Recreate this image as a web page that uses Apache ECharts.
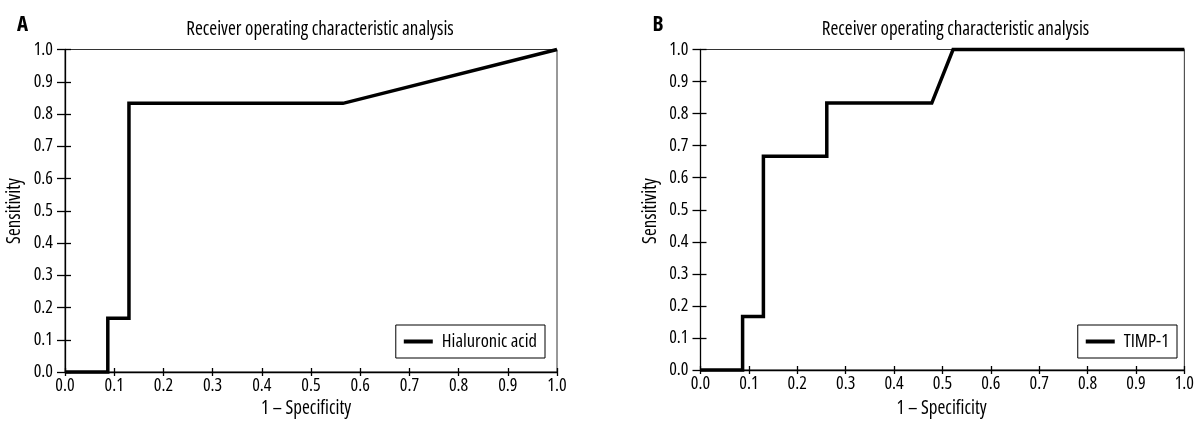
<!DOCTYPE html>
<html>
<head>
<meta charset="utf-8">
<script src="https://cdn.jsdelivr.net/npm/echarts@6/dist/echarts.min.js"></script>
<style>
html,body{margin:0;padding:0;background:#fff;}
#chart{width:1197px;height:424px;}
</style>
</head>
<body>
<div id="chart"></div>
<script>
// ---- data ----
const panelLetters = ['A', 'B'];
const titleText = 'Receiver operating characteristic analysis';
const xAxisName = '1 \u2013 Specificity';
const yAxisName = 'Sensitivity';
const seriesNames = ['Hialuronic acid', 'TIMP-1'];
// 1 - specificity / sensitivity for panel A (Hialuronic acid)
const rocA_x = [0, 0.087, 0.087, 0.130, 0.130, 0.565, 1.0];
const rocA_y = [0, 0, 0.167, 0.167, 0.833, 0.833, 1.0];
// panel B (TIMP-1)
const rocB_x = [0, 0.087, 0.087, 0.130, 0.130, 0.261, 0.261, 0.478, 0.522, 1.0];
const rocB_y = [0, 0, 0.167, 0.167, 0.667, 0.667, 0.833, 0.833, 1.0, 1.0];

// ---- pick the narrowest installed sans font (reference uses a condensed face) ----
const mctx = document.createElement('canvas').getContext('2d');
const NOFONT = "100px 'NoSuchFontXyz123'";
function measureWith(f, text) {
  mctx.font = NOFONT;
  const before = mctx.font;
  mctx.font = f;
  if (mctx.font === before) return null;
  return mctx.measureText(text).width;
}
function pickFont() {
  const sample = titleText;
  mctx.font = NOFONT;
  const fallbackW = mctx.measureText(sample).width;
  const cands = [
    {stretch: '', family: "'Liberation Sans Narrow'"},
    {stretch: '', family: "'Arial Narrow'"},
    {stretch: '', family: "'Roboto Condensed'"},
    {stretch: '', family: "'Open Sans Condensed'"},
    {stretch: '', family: "'Noto Sans Condensed'"},
    {stretch: '', family: "'DejaVu Sans Condensed'"},
    {stretch: 'extra-condensed', family: "'Noto Sans'"},
    {stretch: 'condensed', family: "'Noto Sans'"},
    {stretch: 'condensed', family: "'Open Sans'"},
    {stretch: 'condensed', family: 'Roboto'},
    {stretch: 'condensed', family: "'DejaVu Sans'"},
    {stretch: '', family: "'Liberation Sans'"},
    {stretch: '', family: 'Roboto'}
  ];
  let best = {stretch: '', family: "'Liberation Sans'", w: 1e9};
  cands.forEach(cd => {
    let w;
    if (cd.stretch) {
      const base = measureWith('100px ' + cd.family, sample);
      w = measureWith(cd.stretch + ' 100px ' + cd.family, sample);
      if (w == null || base == null || w > base * 0.97) return;
    } else {
      w = measureWith('100px ' + cd.family, sample);
      if (w == null || Math.abs(w - fallbackW) < 0.01) return;
    }
    if (w < best.w) best = {stretch: cd.stretch, family: cd.family, w: w};
  });
  return best;
}
const PF = pickFont();
const FAMILY = PF.family + ", 'Liberation Sans', sans-serif";
const FSTYLE = PF.stretch || 'normal';
function sizeFor(text, targetW, lo, hi) {
  const w = measureWith((PF.stretch ? PF.stretch + ' ' : '') + '100px ' + FAMILY, text);
  return Math.max(lo, Math.min(hi, Math.round(targetW * 100 / w * 2) / 2));
}
const TITLE_SIZE = sizeFor(titleText, 266, 15, 19);
const NAME_SIZE = sizeFor(xAxisName, 92, 15, 19);
const LEG_SIZE = sizeFor(seriesNames[0], 95, 15, 19);
const TICK_SIZE = 18;
const fontStr = (size, weight) => (PF.stretch ? PF.stretch + ' ' : '') + (weight || 'normal') + ' ' + size + 'px ' + FAMILY;

const pairs = (xs, ys) => xs.map((x, i) => [x, ys[i]]);

const grids = [
  {left: 65, top: 49.5, width: 492, height: 322.5},
  {left: 700.5, top: 49.5, width: 487.5, height: 320.5}
];

const labelStyle = {fontSize: TICK_SIZE, color: '#000', fontFamily: FAMILY, fontStyle: FSTYLE};
const xAxes = [], yAxes = [];
grids.forEach((g, gi) => {
  const common = {gridIndex: gi, type: 'value', min: 0, max: 1, interval: 0.1, splitLine: {show: false}};
  xAxes.push(Object.assign({}, common, {
    position: 'bottom',
    axisLine: {show: true, lineStyle: {color: '#000', width: 1.3}},
    axisTick: {show: true, inside: false, length: 4, lineStyle: {color: '#000', width: 1.3}},
    axisLabel: Object.assign({show: true, formatter: v => v.toFixed(1), margin: 5}, labelStyle)
  }));
  xAxes.push(Object.assign({}, common, {
    position: 'bottom',
    axisLine: {show: false},
    axisTick: {show: true, inside: true, length: 4, lineStyle: {color: '#000', width: 1.3}},
    axisLabel: {show: false}
  }));
  yAxes.push(Object.assign({}, common, {
    position: 'left',
    axisLine: {show: true, lineStyle: {color: '#000', width: 1.3}},
    axisTick: {show: true, inside: false, length: 8, lineStyle: {color: '#000', width: 1.3}},
    axisLabel: Object.assign({show: true, formatter: v => v.toFixed(1), margin: 12}, labelStyle)
  }));
  yAxes.push(Object.assign({}, common, {
    position: 'left',
    axisLine: {show: false},
    axisTick: {show: true, inside: true, length: 6, lineStyle: {color: '#000', width: 1.3}},
    axisLabel: {show: false}
  }));
});

const lineSeries = (name, data, gi) => ({
  name: name, type: 'line', data: data,
  xAxisIndex: gi * 2, yAxisIndex: gi * 2,
  symbol: 'none', clip: false, animation: false,
  lineStyle: {color: '#000', width: 3.5, join: 'miter', cap: 'butt'},
  itemStyle: {color: '#000'}
});

const legendCommon = {
  top: 325, orient: 'horizontal', icon: 'rect', itemWidth: 29, itemHeight: 4,
  borderColor: '#000', borderWidth: 1, padding: [7, 8, 7, 8], backgroundColor: '#fff',
  textStyle: {fontSize: LEG_SIZE, color: '#000', fontFamily: FAMILY, fontStyle: FSTYLE, padding: [0, 0, 0, 4]},
  selectedMode: false
};

const txt = (x, y, text, font) => ({
  type: 'text', x: x, y: y, silent: true,
  style: {text: text, fill: '#000', font: font, align: 'center', verticalAlign: 'middle'}
});

const graphics = [];
const offsets = [0, 635.5];
offsets.forEach((dx, i) => {
  graphics.push(txt(22.5 + dx, 25, panelLetters[i], fontStr(21, 'bold')));
  graphics.push(txt(320 + dx, 30, titleText, fontStr(TITLE_SIZE)));
  graphics.push(txt(306 + dx, 409, xAxisName, fontStr(NAME_SIZE)));
  graphics.push(Object.assign(txt(15 + dx, 211, yAxisName, fontStr(NAME_SIZE)), {rotation: Math.PI / 2}));
});

const chart = echarts.init(document.getElementById('chart'), null, {renderer: 'canvas'});
chart.setOption({
  animation: false,
  backgroundColor: '#fff',
  grid: grids.map(g => Object.assign({show: true, borderColor: '#333', borderWidth: 1, containLabel: false}, g)),
  xAxis: xAxes,
  yAxis: yAxes,
  legend: [
    Object.assign({}, legendCommon, {right: 652, data: [seriesNames[0]]}),
    Object.assign({}, legendCommon, {right: 20, data: [seriesNames[1]]})
  ],
  graphic: graphics,
  series: [
    lineSeries(seriesNames[0], pairs(rocA_x, rocA_y), 0),
    lineSeries(seriesNames[1], pairs(rocB_x, rocB_y), 1)
  ]
});
</script>
</body>
</html>
